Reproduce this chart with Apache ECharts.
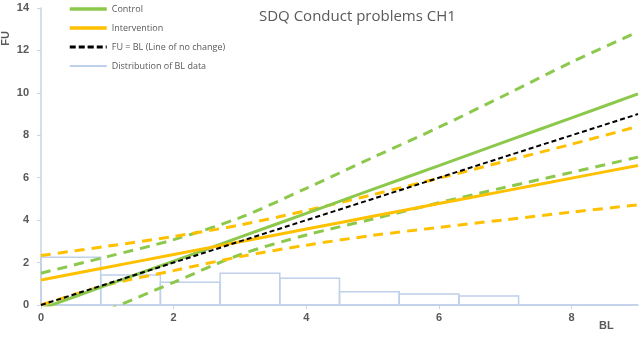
<!DOCTYPE html>
<html>
<head>
<meta charset="utf-8">
<script src="https://cdn.jsdelivr.net/npm/echarts@6/dist/echarts.min.js"></script>
<style>
  html, body { margin: 0; padding: 0; background: #fff; }
  #main { width: 642px; height: 337px; }
</style>
</head>
<body>
<div id="main"></div>
<script>
  // baseline score grid used for the fitted lines
  var blValues = [0, 1, 2, 3, 4, 5, 6, 7, 8, 9]
  var controlFit = [-0.18, 0.95, 2.07, 3.2, 4.32, 5.45, 6.57, 7.7, 8.82, 9.95]
  var controlUpper = [1.5, 2.28, 3.08, 4.12, 5.5, 6.95, 8.38, 9.9, 11.45, 12.88]
  var controlLower = [null, -0.25, 1.07, 2.37, 3.3, 4.05, 4.82, 5.55, 6.25, 6.97]
  var interventionFit = [1.18, 1.78, 2.38, 2.98, 3.58, 4.18, 4.78, 5.38, 5.98, 6.58]
  var interventionUpper = [2.33, 2.77, 3.23, 3.77, 4.45, 5.2, 5.98, 6.78, 7.58, 8.42]
  var interventionLower = [0, 0.95, 1.62, 2.28, 2.82, 3.28, 3.66, 4.02, 4.38, 4.72]
  var noChangeX = [0, 9]
  var noChangeY = [0, 9]
  // distribution of BL data (histogram)
  var binStarts = [0, 0.9, 1.8, 2.7, 3.6, 4.5, 5.4, 6.3, 7.2, 8.1]
  var binHeights = [2.25, 1.42, 1.07, 1.5, 1.26, 0.63, 0.52, 0.43, 0, 0]
  var binWidth = 0.9
  var xTicks = [0, 2, 4, 6, 8]

  var green = '#8cc84b'
  var orange = '#ffc000'
  var histBlue = '#bfd0ea'

  function pairs (xArr, yArr) {
    return xArr.map(function (x, i) { return [x, yArr[i]] })
  }

  function lineSeries (name, ys, color, dashed) {
    return {
      name: name,
      type: 'line',
      data: pairs(blValues, ys),
      showSymbol: false,
      symbol: 'none',
      smooth: 0.3,
      clip: true,
      z: 3,
      lineStyle: { color: color, width: 3, type: dashed ? [10, 7] : 'solid' },
      itemStyle: { color: color }
    }
  }

  var chart = echarts.init(document.getElementById('main'))
  chart.setOption({
    animation: false,
    backgroundColor: '#fff',
    title: {
      text: 'SDQ Conduct problems CH1',
      left: 254,
      top: 4,
      textStyle: { fontFamily: 'Open Sans', fontSize: 15, fontWeight: 'normal', color: '#595959' }
    },
    grid: { left: 41, right: 4, top: 8, bottom: 32, containLabel: false },
    legend: {
      orient: 'vertical',
      left: 68,
      top: 3,
      padding: 0,
      itemWidth: 37,
      itemHeight: 2,
      itemGap: 7,
      textStyle: { fontSize: 9, color: '#595959', fontFamily: 'Open Sans', lineHeight: 12 },
      data: [
        { name: 'Control', lineStyle: { width: 3.5 } },
        { name: 'Intervention', lineStyle: { width: 3.5 } },
        { name: 'FU = BL (Line of no change)', lineStyle: { width: 3, type: [6, 3] } },
        { name: 'Distribution of BL data', icon: 'rect', itemStyle: { color: histBlue } }
      ]
    },
    xAxis: {
      type: 'value',
      min: 0,
      max: 9,
      splitLine: { show: false },
      axisLine: { lineStyle: { color: '#c9d3e3', width: 1.5 } },
      axisTick: { show: true, length: 4, customValues: xTicks, lineStyle: { color: '#c9d3e3' } },
      axisLabel: { customValues: xTicks, color: '#595959', fontSize: 11, fontWeight: 'bold', margin: 7 }
    },
    yAxis: {
      type: 'value',
      min: 0,
      max: 14,
      interval: 2,
      splitLine: { show: false },
      axisLine: { show: true, lineStyle: { color: '#c9d3e3', width: 1.5 } },
      axisTick: { show: true, length: 4, lineStyle: { color: '#c9d3e3' } },
      axisLabel: { color: '#595959', fontSize: 11, fontWeight: 'bold', margin: 12 }
    },
    graphic: [
      {
        type: 'text', left: 0, top: 31, rotation: Math.PI / 2,
        style: { text: 'FU', fill: '#595959', font: 'bold 11px sans-serif' }
      },
      {
        type: 'text', left: 599, top: 320,
        style: { text: 'BL', fill: '#595959', font: 'bold 11px sans-serif' }
      }
    ],
    series: [
      {
        name: 'Distribution of BL data',
        type: 'custom',
        z: 1,
        data: binStarts.map(function (s, i) { return [s, binHeights[i]] }),
        renderItem: function (params, api) {
          var start = api.value(0)
          var p1 = api.coord([start, api.value(1)])
          var p2 = api.coord([start + binWidth, 0])
          return {
            type: 'rect',
            shape: { x: p1[0], y: p1[1], width: p2[0] - p1[0], height: p2[1] - p1[1] },
            style: { fill: 'rgba(0,0,0,0)', stroke: histBlue, lineWidth: 1.5 }
          }
        },
        itemStyle: { color: histBlue }
      },
      lineSeries('Control upper', controlUpper, green, true),
      lineSeries('Control lower', controlLower, green, true),
      lineSeries('Intervention upper', interventionUpper, orange, true),
      lineSeries('Intervention lower', interventionLower, orange, true),
      lineSeries('Control', controlFit, green, false),
      lineSeries('Intervention', interventionFit, orange, false),
      {
        name: 'FU = BL (Line of no change)',
        type: 'line',
        data: pairs(noChangeX, noChangeY),
        showSymbol: false,
        symbol: 'none',
        z: 4,
        lineStyle: { color: '#000', width: 2, type: [5, 3] },
        itemStyle: { color: '#000' }
      }
    ]
  })
</script>
</body>
</html>
